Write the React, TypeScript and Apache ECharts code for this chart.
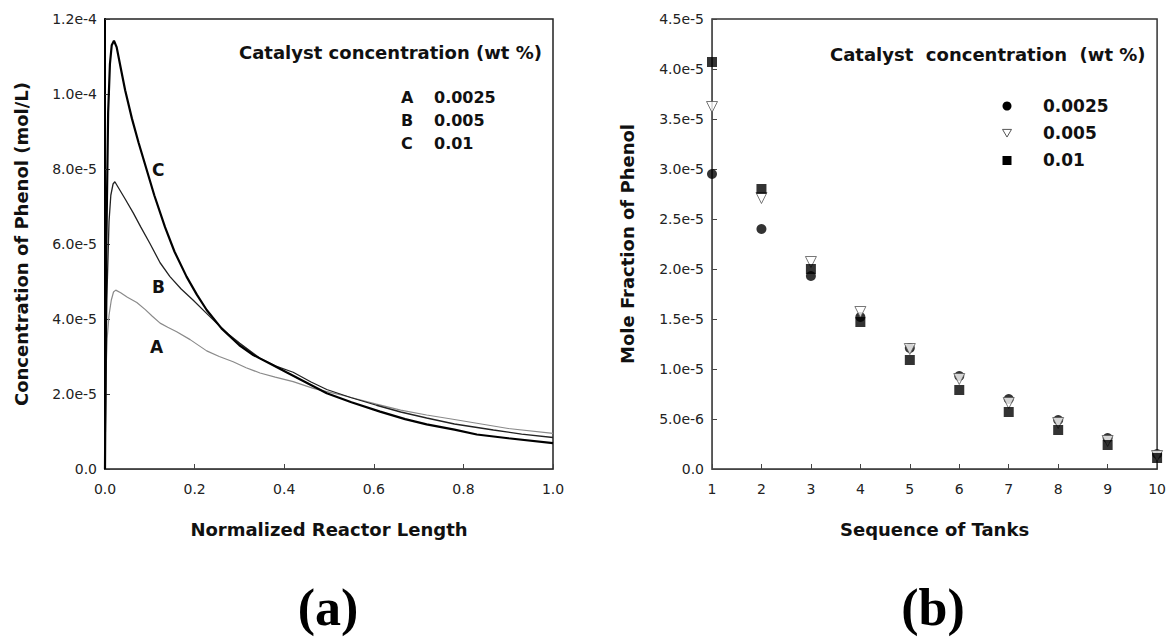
import React, { useEffect, useRef } from "react";
import * as echarts from "echarts";

// ---- Panel (a): concentration along normalized reactor length ----
const curveA: [number, number][] = [
  [0, 0], [0.002, 2.5e-5], [0.005, 3.5e-5], [0.009, 4.1e-5], [0.014, 4.5e-5], [0.019, 4.72e-5],
  [0.024, 4.77e-5], [0.035, 4.7e-5], [0.05, 4.58e-5], [0.071, 4.44e-5], [0.09, 4.25e-5],
  [0.105, 4.08e-5], [0.123, 3.89e-5], [0.14, 3.78e-5], [0.16, 3.66e-5], [0.19, 3.45e-5],
  [0.227, 3.15e-5], [0.255, 3.0e-5], [0.286, 2.86e-5], [0.315, 2.7e-5], [0.346, 2.56e-5],
  [0.38, 2.45e-5], [0.42, 2.33e-5], [0.465, 2.15e-5], [0.5, 2.05e-5], [0.532, 1.96e-5],
  [0.606, 1.73e-5], [0.66, 1.57e-5], [0.718, 1.44e-5], [0.78, 1.32e-5], [0.83, 1.22e-5],
  [0.9, 1.08e-5], [1.0, 9.5e-6],
];
const curveB: [number, number][] = [
  [0, 0], [0.004, 4.5e-5], [0.009, 6.6e-5], [0.013, 7.3e-5], [0.018, 7.6e-5], [0.022, 7.66e-5],
  [0.03, 7.5e-5], [0.045, 7.2e-5], [0.063, 6.83e-5], [0.08, 6.45e-5], [0.1, 6.02e-5],
  [0.123, 5.5e-5], [0.145, 5.13e-5], [0.17, 4.8e-5], [0.197, 4.5e-5], [0.225, 4.17e-5],
  [0.249, 3.89e-5], [0.275, 3.6e-5], [0.301, 3.35e-5], [0.346, 2.95e-5], [0.38, 2.75e-5],
  [0.42, 2.58e-5], [0.46, 2.32e-5], [0.495, 2.12e-5], [0.55, 1.9e-5], [0.606, 1.7e-5],
  [0.66, 1.52e-5], [0.718, 1.36e-5], [0.78, 1.2e-5], [0.867, 1.04e-5], [0.93, 9.3e-6],
  [1.0, 8.4e-6],
];
const curveC: [number, number][] = [
  [0, 0], [0.003, 6e-5], [0.007, 9.5e-5], [0.011, 1.08e-4], [0.015, 1.13e-4], [0.02, 1.142e-4],
  [0.026, 1.125e-4], [0.035, 1.07e-4], [0.045, 1.01e-4], [0.06, 9.35e-5], [0.075, 8.7e-5],
  [0.09, 8.1e-5], [0.11, 7.3e-5], [0.134, 6.45e-5], [0.155, 5.8e-5], [0.182, 5.13e-5],
  [0.205, 4.65e-5], [0.227, 4.24e-5], [0.26, 3.75e-5], [0.3, 3.3e-5], [0.331, 3.04e-5],
  [0.37, 2.8e-5], [0.405, 2.58e-5], [0.45, 2.3e-5], [0.495, 2.02e-5], [0.55, 1.78e-5],
  [0.614, 1.53e-5], [0.67, 1.33e-5], [0.718, 1.19e-5], [0.78, 1.05e-5], [0.83, 9.2e-6],
  [0.9, 8.2e-6], [1.0, 6.9e-6],
];
const legendLettersA = ["A", "B", "C"];
const legendValuesA = ["0.0025", "0.005", "0.01"];

// ---- Panel (b): mole fraction per tank ----
const tanks = [1, 2, 3, 4, 5, 6, 7, 8, 9, 10];
const frac0025 = [2.95e-5, 2.40e-5, 1.93e-5, 1.52e-5, 1.21e-5, 9.3e-6, 7.0e-6, 4.9e-6, 3.1e-6, 1.5e-6];
const frac005 = [3.62e-5, 2.71e-5, 2.07e-5, 1.57e-5, 1.2e-5, 9.0e-6, 6.6e-6, 4.6e-6, 2.8e-6, 1.3e-6];
const frac01 = [4.07e-5, 2.80e-5, 2.0e-5, 1.47e-5, 1.09e-5, 7.9e-6, 5.7e-6, 3.9e-6, 2.4e-6, 1.1e-6];
const seriesNamesB = ["0.0025", "0.005", "0.01"];

const FONT = '"DejaVu Sans", "Liberation Sans", sans-serif';

const expFmt = (v: number) => (v === 0 ? "0.0" : v.toExponential(1));

export default function App() {
  const ref = useRef<HTMLDivElement>(null);
  useEffect(() => {
    if (!ref.current) return;
    const chart = echarts.init(ref.current, null, { renderer: "svg" });
    const tickLabel = { fontFamily: FONT, fontSize: 14, color: "#222" };
    const nameStyle = { fontFamily: FONT, fontSize: 18, fontWeight: "bold" as const, color: "#111" };
    const boldText = (text: string, x: number, y: number, size: number, align = "left") => ({
      type: "text",
      style: {
        text, x, y, fill: "#111",
        font: `bold ${size}px ${FONT}`,
        textAlign: align, textVerticalAlign: "middle",
      },
    });
    const tri = (cx: number, cy: number, r: number) => ({
      type: "polygon",
      shape: { points: [[cx - r, cy - r * 0.8], [cx + r, cy - r * 0.8], [cx, cy + r * 0.9]] },
      style: { fill: "#fff", stroke: "#555", lineWidth: 1 },
    });
    const graphic: any[] = [
      boldText("Catalyst concentration (wt %)", 239, 52, 18),
      ...legendLettersA.map((l, i) => boldText(l, 401, 97 + i * 23, 16)),
      ...legendValuesA.map((v, i) => boldText(v, 434, 97 + i * 23, 16)),
      boldText("C", 152, 170, 17),
      boldText("B", 152, 287, 17),
      boldText("A", 150, 347, 17),
      boldText("Catalyst  concentration  (wt %)", 830, 54, 18),
      { type: "circle", shape: { cx: 1007, cy: 106, r: 4.5 }, style: { fill: "#000" } },
      tri(1007, 133, 4.5),
      { type: "rect", shape: { x: 1002.5, y: 156, width: 9, height: 9 }, style: { fill: "#000" } },
      ...seriesNamesB.map((v, i) => boldText(v, 1043, 106 + i * 27, 17)),
      {
        type: "text",
        style: { text: "(a)", x: 328, y: 607, fill: "#000", font: 'bold 52px "Liberation Serif", serif', textAlign: "center", textVerticalAlign: "middle" },
      },
      {
        type: "text",
        style: { text: "(b)", x: 933, y: 607, fill: "#000", font: 'bold 52px "Liberation Serif", serif', textAlign: "center", textVerticalAlign: "middle" },
      },
    ];

    const option: any = {
      animation: false,
      backgroundColor: "#fff",
      grid: [
        { left: 105, top: 19, width: 448, height: 450, show: true, borderColor: "#222", borderWidth: 1.5, backgroundColor: "rgba(255,255,255,0)" },
        { left: 712, top: 19, width: 446, height: 450, show: true, borderColor: "#333", borderWidth: 1.5, backgroundColor: "rgba(255,255,255,0)" },
      ],
      xAxis: [
        {
          gridIndex: 0, type: "value", min: 0, max: 1, interval: 0.2,
          name: "Normalized Reactor Length", nameLocation: "middle", nameGap: 51, nameTextStyle: nameStyle,
          axisLine: { show: true, onZero: false, lineStyle: { color: "#444", width: 1 } },
          axisTick: { inside: true, length: 5, lineStyle: { color: "#444" } },
          axisLabel: { ...tickLabel, margin: 13, formatter: (v: number) => v.toFixed(1) },
          splitLine: { show: false },
        },
        {
          gridIndex: 1, type: "value", min: 1, max: 10, interval: 1,
          name: "Sequence of Tanks", nameLocation: "middle", nameGap: 51, nameTextStyle: nameStyle,
          axisLine: { show: true, onZero: false, lineStyle: { color: "#444", width: 1 } },
          axisTick: { inside: true, length: 5, lineStyle: { color: "#444" } },
          axisLabel: { ...tickLabel, margin: 13 },
          splitLine: { show: false },
        },
      ],
      yAxis: [
        {
          gridIndex: 0, type: "value", min: 0, max: 1.2e-4, interval: 2e-5,
          name: "Concentration of Phenol (mol/L)", nameLocation: "middle", nameGap: 75, nameTextStyle: nameStyle,
          axisLine: { show: true, onZero: false, lineStyle: { color: "#000", width: 2 } },
          axisTick: { inside: true, length: 5, lineStyle: { color: "#333" } },
          axisLabel: { ...tickLabel, margin: 8, formatter: expFmt },
          splitLine: { show: false },
        },
        {
          gridIndex: 1, type: "value", min: 0, max: 4.5e-5, interval: 5e-6,
          name: "Mole Fraction of Phenol", nameLocation: "middle", nameGap: 76, nameTextStyle: nameStyle,
          axisLine: { show: true, onZero: false, lineStyle: { color: "#555", width: 1 } },
          axisTick: { inside: true, length: 5, lineStyle: { color: "#444" } },
          axisLabel: { ...tickLabel, margin: 8, formatter: expFmt },
          splitLine: { show: false },
        },
      ],
      series: [
        { name: "A", type: "line", xAxisIndex: 0, yAxisIndex: 0, data: curveA, showSymbol: false, smooth: false, lineStyle: { color: "#8a8a8a", width: 1.2 } },
        { name: "B", type: "line", xAxisIndex: 0, yAxisIndex: 0, data: curveB, showSymbol: false, smooth: false, lineStyle: { color: "#222", width: 1.3 } },
        { name: "C", type: "line", xAxisIndex: 0, yAxisIndex: 0, data: curveC, showSymbol: false, smooth: false, lineStyle: { color: "#000", width: 2.2 } },
        {
          name: seriesNamesB[0], type: "scatter", xAxisIndex: 1, yAxisIndex: 1,
          data: tanks.map((t, i) => [t, frac0025[i]]), symbol: "circle", symbolSize: 10,
          itemStyle: { color: "#000" }, z: 3,
        },
        {
          name: seriesNamesB[1], type: "scatter", xAxisIndex: 1, yAxisIndex: 1,
          data: tanks.map((t, i) => [t, frac005[i]]), symbol: "triangle", symbolRotate: 180, symbolSize: 11,
          itemStyle: { color: "#fff", borderColor: "#555", borderWidth: 1 }, z: 4,
        },
        {
          name: seriesNamesB[2], type: "scatter", xAxisIndex: 1, yAxisIndex: 1,
          data: tanks.map((t, i) => [t, frac01[i]]), symbol: "rect", symbolSize: 10,
          itemStyle: { color: "#000" }, z: 5,
        },
      ],
      graphic,
    };
    chart.setOption(option);
    return () => chart.dispose();
  }, []);
  return <div ref={ref} style={{ position: "fixed", left: 0, top: 0, width: 1169, height: 642, background: "#fff" }} />;
}
